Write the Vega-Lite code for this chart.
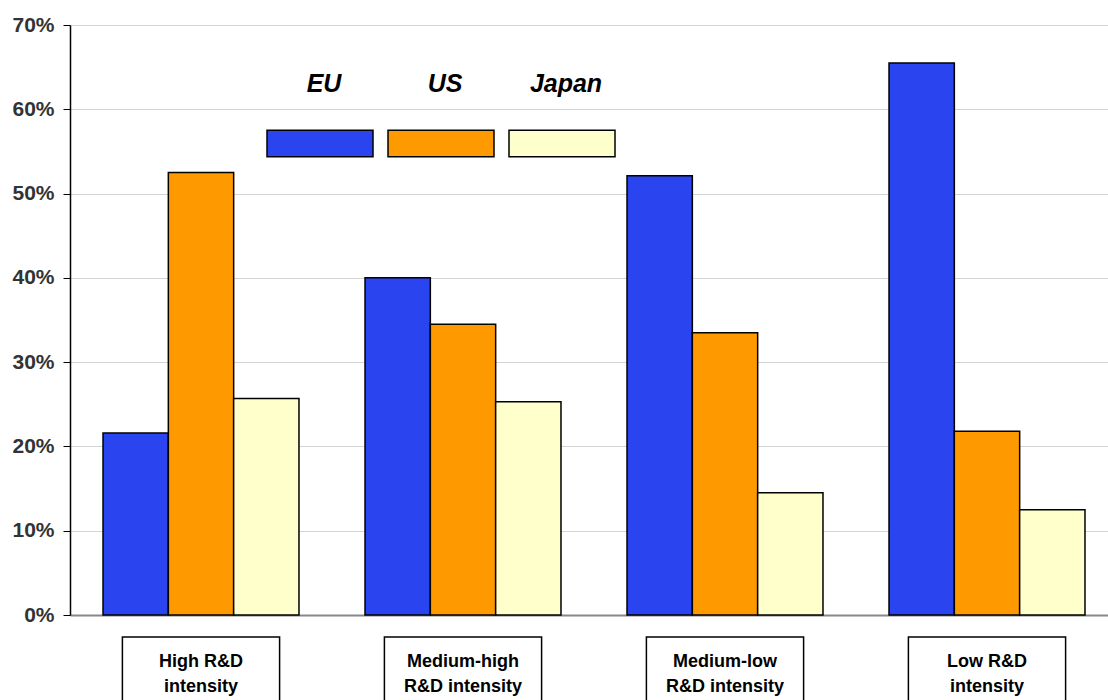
{
  "$schema": "https://vega.github.io/schema/vega-lite/v6.json",
  "background": "white",
  "padding": {"left": 5, "top": 14, "right": 0, "bottom": 0},
  "bounds": "flush",
  "spacing": 22,
  "config": {"view": {"stroke": null}, "font": "Liberation Sans"},
  "resolve": {"scale": {"x": "independent"}},
  "vconcat": [
    {
      "width": 1048,
      "height": 590,
      "data": {"values": [
        {"sector": "High R&D intensity", "region": "EU", "share": 0.216},
        {"sector": "High R&D intensity", "region": "US", "share": 0.525},
        {"sector": "High R&D intensity", "region": "Japan", "share": 0.257},
        {"sector": "Medium-high R&D intensity", "region": "EU", "share": 0.400},
        {"sector": "Medium-high R&D intensity", "region": "US", "share": 0.345},
        {"sector": "Medium-high R&D intensity", "region": "Japan", "share": 0.253},
        {"sector": "Medium-low R&D intensity", "region": "EU", "share": 0.521},
        {"sector": "Medium-low R&D intensity", "region": "US", "share": 0.335},
        {"sector": "Medium-low R&D intensity", "region": "Japan", "share": 0.145},
        {"sector": "Low R&D intensity", "region": "EU", "share": 0.655},
        {"sector": "Low R&D intensity", "region": "US", "share": 0.218},
        {"sector": "Low R&D intensity", "region": "Japan", "share": 0.125}
      ]},
      "mark": {"type": "bar", "stroke": "black", "strokeWidth": 1.5},
      "encoding": {
        "x": {
          "field": "sector", "type": "nominal",
          "sort": ["High R&D intensity", "Medium-high R&D intensity", "Medium-low R&D intensity", "Low R&D intensity"],
          "scale": {"paddingInner": 0.252, "paddingOuter": 0.126},
          "axis": {"title": null, "labels": false, "ticks": false, "domainColor": "#888888", "domainWidth": 2, "minExtent": 0, "maxExtent": 0}
        },
        "xOffset": {
          "field": "region", "type": "nominal", "sort": ["EU", "US", "Japan"],
          "scale": {"paddingInner": 0, "paddingOuter": 0}
        },
        "y": {
          "field": "share", "type": "quantitative",
          "scale": {"domain": [0, 0.7]},
          "axis": {
            "title": null, "format": ".0%",
            "values": [0, 0.1, 0.2, 0.3, 0.4, 0.5, 0.6, 0.7],
            "labelFont": "Liberation Sans", "labelFontSize": 21, "labelFontWeight": "bold", "labelColor": "#333333",
            "tickColor": "black", "tickSize": 7, "labelPadding": 9,
            "domainColor": "black", "domainWidth": 1.5,
            "gridColor": "#d4d4d4", "gridWidth": 1.2,
            "minExtent": 65, "maxExtent": 65
          }
        },
        "color": {
          "field": "region", "type": "nominal",
          "scale": {"domain": ["EU", "US", "Japan"], "range": ["#2a44f0", "#ff9900", "#ffffcc"]},
          "legend": {
            "orient": "none", "legendX": 196, "legendY": 64,
            "direction": "horizontal", "title": null,
            "symbolType": "M-1,-0.25H1V0.25H-1Z",
            "symbolSize": 11236,
            "symbolStrokeColor": "black", "symbolStrokeWidth": 1.5, "symbolOpacity": 1,
            "labelFont": "Liberation Sans", "labelFontSize": 25, "labelFontStyle": "italic", "labelFontWeight": "bold",
            "labelColor": "black", "labelAlign": "center", "labelLimit": 200,
            "columnPadding": 9,
            "encode": {"labels": {"update": {"dx": {"value": -54}, "dy": {"value": -59}}}}
          }
        }
      }
    },
    {
      "width": 1048,
      "height": 78,
      "data": {"values": [
        {"sector": "High R&D intensity", "label": "High R&D\nintensity"},
        {"sector": "Medium-high R&D intensity", "label": "Medium-high\nR&D intensity"},
        {"sector": "Medium-low R&D intensity", "label": "Medium-low\nR&D intensity"},
        {"sector": "Low R&D intensity", "label": "Low R&D\nintensity"}
      ]},
      "encoding": {
        "x": {
          "field": "sector", "type": "nominal",
          "sort": ["High R&D intensity", "Medium-high R&D intensity", "Medium-low R&D intensity", "Low R&D intensity"],
          "scale": {"paddingInner": 0.4, "paddingOuter": 0.2},
          "axis": null
        }
      },
      "layer": [
        {"mark": {"type": "bar", "fill": "white", "stroke": "black", "strokeWidth": 1.5}},
        {"mark": {"type": "text", "font": "Liberation Sans", "fontSize": 18, "fontWeight": "bold", "color": "black", "lineBreak": "\n", "lineHeight": 25, "baseline": "middle", "dy": -14},
         "encoding": {"text": {"field": "label"}}}
      ]
    }
  ]
}
